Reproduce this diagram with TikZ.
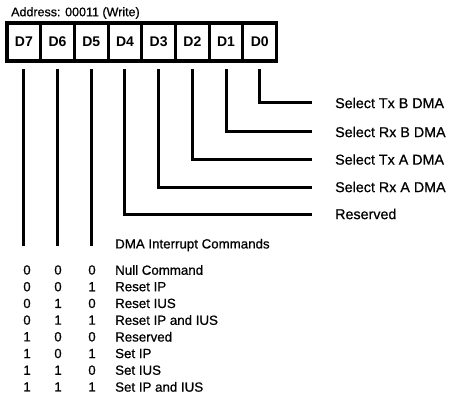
\documentclass[tikz,border=0pt]{standalone}
\usepackage{fontspec}
\setmainfont{Liberation Sans}
\newfontfamily\medfont[FakeBold=0.7]{Liberation Sans}
\begin{document}
\begin{tikzpicture}[x=1pt,y=-1pt,
  wire/.style={line width=3pt},
  frame/.style={line width=3.5pt},
  divider/.style={line width=3pt},
  bitlabel/.style={inner sep=0pt,font=\fontsize{14}{16}\selectfont\bfseries},
  sellabel/.style={anchor=west,inner sep=0pt,font=\medfont\fontsize{14.3}{17}\selectfont},
  tabtext/.style={anchor=west,inner sep=0pt,font=\medfont\fontsize{13.3}{16}\selectfont},
  tabdigit/.style={inner sep=0pt,font=\medfont\fontsize{13.3}{16}\selectfont},
  titletext/.style={anchor=west,inner sep=0pt,font=\medfont\fontsize{12.5}{15}\selectfont}]
\useasboundingbox (0,0) rectangle (454,398);
% title
\node[titletext] (title) at (11,13) {Address: 00011 (Write)};
% register
\draw[frame] (7,23) rectangle (276.6,61);
\foreach \k in {1,...,7} {\draw[divider] ({7+\k*33.7},23) -- ({7+\k*33.7},61);}
\foreach \b [count=\k from 0] in {7,6,5,4,3,2,1,0} {
  \node[bitlabel] (d\b) at ({7+(\k+0.5)*33.7},42) {D\b};
  \coordinate (t\b) at ({7+(\k+0.5)*33.7},69);
}
% select labels
\node[sellabel] (l0) at (335,103) {Select Tx B DMA};
\node[sellabel] (l1) at (335,132) {Select Rx B DMA};
\node[sellabel] (l2) at (335,159.5) {Select Tx A DMA};
\node[sellabel] (l3) at (335,187) {Select Rx A DMA};
\node[sellabel] (l4) at (335,214) {Reserved};
\foreach \b/\yy in {0/103,1/132,2/159.5,3/187,4/214} {
  \coordinate (e\b) at (312,\yy);
  \draw[wire] (t\b) |- (e\b);
}
% D7..D5 lines
\foreach \b in {7,6,5} {
  \coordinate (b\b) at (t\b |- 0,246);
  \draw[wire] (t\b) -- (b\b);
}
% table
\node[tabtext] (hdr) at (115,245) {DMA Interrupt Commands};
\foreach \a/\bb/\c/\txt [count=\i from 0] in {
  0/0/0/Null Command,
  0/0/1/Reset IP,
  0/1/0/Reset IUS,
  0/1/1/Reset IP and IUS,
  1/0/0/Reserved,
  1/0/1/Set IP,
  1/1/0/Set IUS,
  1/1/1/Set IP and IUS} {
  \node[tabdigit] (ra\i) at (27,{270+\i*16.7}) {\a};
  \node[tabdigit] (rb\i) at (58,{270+\i*16.7}) {\bb};
  \node[tabdigit] (rc\i) at (92,{270+\i*16.7}) {\c};
  \node[tabtext] (rt\i) at (115,{270+\i*16.7}) {\txt};
}
\end{tikzpicture}
\end{document}
